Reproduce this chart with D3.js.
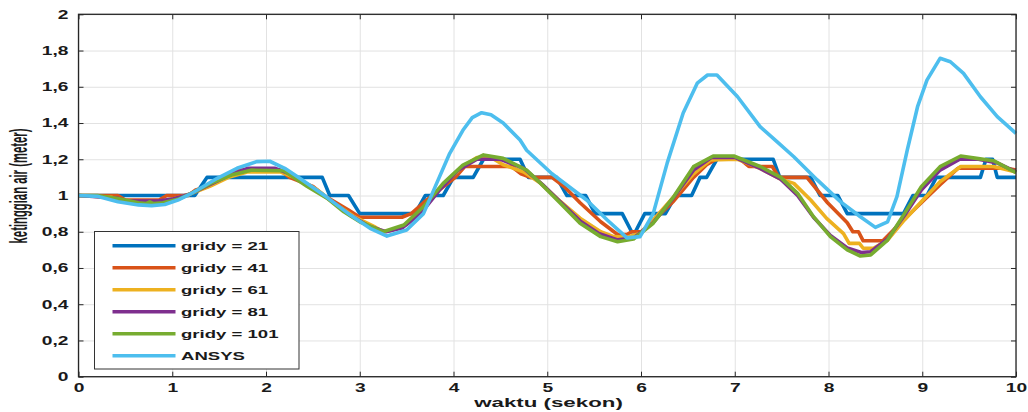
<!doctype html>
<html>
<head>
  <meta charset="utf8"/>
  <style>
    body { margin: 0; background: #fff; }
    text { font-family: 'Liberation Sans', Arial, sans-serif; font-weight: bold; fill: #1a1a1a; }
  </style>
</head>
<body>
  <svg width="1028" height="412"></svg>
  <script src="https://d3js.org/d3.v7.min.js"></script>
  <script>
    // tick values
    var xTicks = [0, 1, 2, 3, 4, 5, 6, 7, 8, 9, 10];
    var yTicks = [0, 0.2, 0.4, 0.6, 0.8, 1, 1.2, 1.4, 1.6, 1.8, 2];

    // series as [waktu, ketinggian]
    var gridy21 = [[0,1],[1.24,1],[1.37,1.1],[2.6,1.1],[2.68,1.0],[2.88,1.0],[3.0,0.9],[3.59,0.9],[3.7,1.0],
      [3.89,1.0],[4.0,1.1],[4.21,1.1],[4.32,1.2],[4.71,1.2],[4.8,1.1],[5.1,1.1],[5.21,1.0],[5.41,1.0],
      [5.51,0.9],[5.8,0.9],[5.9,0.8],[5.94,0.8],[6.04,0.9],[6.26,0.9],[6.37,1.0],[6.54,1.0],[6.63,1.1],
      [6.7,1.1],[6.81,1.2],[7.41,1.2],[7.48,1.1],[7.81,1.1],[7.91,1.0],[8.1,1.0],[8.2,0.9],[8.8,0.9],
      [8.9,1.0],[9.05,1.0],[9.15,1.1],[9.62,1.1],[9.68,1.2],[9.75,1.2],[9.8,1.1],[10,1.1]];
    var gridy41 = [[0,1],[0.42,1],[0.5,0.975],[0.86,0.975],[0.94,1],[1.17,1],[1.25,1.03],[1.38,1.05],
      [1.47,1.08],[1.57,1.1],[1.68,1.14],[2.15,1.14],[2.25,1.1],[2.4,1.07],[2.5,1.05],[2.62,1.0],
      [2.75,0.96],[2.88,0.92],[3.0,0.88],[3.45,0.88],[3.55,0.9],[3.68,0.96],[3.8,1.01],[3.92,1.06],
      [4.02,1.1],[4.12,1.16],[4.62,1.16],[4.72,1.12],[4.82,1.1],[5.05,1.1],[5.18,1.05],[5.35,0.96],
      [5.57,0.855],[5.75,0.785],[5.85,0.785],[5.9,0.8],[6.0,0.8],[6.13,0.86],[6.35,0.97],[6.56,1.1],
      [6.7,1.17],[6.8,1.2],[7.06,1.2],[7.15,1.16],[7.4,1.16],[7.47,1.1],[7.77,1.1],[7.99,0.96],
      [8.2,0.85],[8.26,0.8],[8.32,0.8],[8.37,0.75],[8.58,0.75],[8.77,0.85],[8.99,0.96],[9.19,1.06],
      [9.38,1.15],[9.9,1.15],[10,1.14]];
    var gridy61 = [[0,1],[0.35,0.99],[0.5,0.965],[0.85,0.965],[1.0,0.98],[1.2,1.01],[1.4,1.05],
      [1.6,1.1],[1.8,1.13],[2.15,1.13],[2.35,1.09],[2.55,1.03],[2.75,0.95],[2.95,0.88],[3.15,0.83],
      [3.25,0.8],[3.35,0.81],[3.5,0.84],[3.68,0.93],[3.89,1.06],[4.1,1.16],[4.25,1.21],[4.4,1.21],
      [4.53,1.17],[4.75,1.13],[4.93,1.067],[5.14,0.967],[5.35,0.875],[5.57,0.8],[5.71,0.773],
      [5.85,0.77],[5.99,0.79],[6.13,0.865],[6.35,0.994],[6.56,1.12],[6.74,1.196],[7.03,1.2],
      [7.27,1.15],[7.49,1.09],[7.63,1.067],[7.81,0.975],[7.98,0.874],[8.16,0.79],[8.22,0.736],
      [8.33,0.736],[8.37,0.709],[8.48,0.709],[8.63,0.754],[8.81,0.865],[8.99,0.966],[9.19,1.076],
      [9.41,1.16],[9.76,1.16],[10,1.13]];
    var gridy81 = [[0,1],[0.42,0.985],[0.5,0.97],[0.85,0.97],[1.0,0.98],[1.2,1.01],[1.4,1.06],
      [1.6,1.11],[1.8,1.15],[2.1,1.15],[2.3,1.11],[2.5,1.04],[2.7,0.97],[2.9,0.89],[3.1,0.83],
      [3.28,0.8],[3.45,0.82],[3.65,0.9],[3.85,1.03],[4.05,1.14],[4.25,1.2],[4.5,1.2],[4.75,1.15],
      [4.95,1.06],[5.15,0.96],[5.35,0.86],[5.55,0.79],[5.75,0.755],[5.92,0.765],[6.13,0.85],
      [6.35,0.99],[6.56,1.14],[6.75,1.21],[7.0,1.21],[7.27,1.15],[7.49,1.09],[7.67,1.0],[7.84,0.88],
      [8.02,0.78],[8.2,0.71],[8.35,0.685],[8.45,0.69],[8.63,0.76],[8.81,0.89],[8.99,1.03],
      [9.19,1.14],[9.4,1.2],[9.6,1.2],[9.8,1.18],[10,1.13]];
    var gridy101 = [[0,1],[0.2,1.0],[0.42,0.983],[0.64,0.96],[0.72,0.955],[0.76,0.965],[0.8,0.955],
      [0.9,0.96],[1.06,0.979],[1.2,1.01],[1.41,1.067],[1.63,1.113],[1.84,1.14],[2.19,1.137],
      [2.44,1.05],[2.65,0.985],[2.83,0.91],[3.0,0.855],[3.25,0.8],[3.47,0.837],[3.68,0.938],
      [3.89,1.067],[4.1,1.168],[4.32,1.224],[4.53,1.205],[4.78,1.14],[4.93,1.067],[5.14,0.958],
      [5.35,0.847],[5.57,0.773],[5.75,0.745],[5.92,0.76],[6.13,0.847],[6.35,0.994],[6.56,1.159],
      [6.77,1.218],[6.99,1.218],[7.27,1.16],[7.49,1.1],[7.67,1.012],[7.84,0.883],[8.02,0.773],
      [8.2,0.70],[8.34,0.666],[8.45,0.672],[8.63,0.754],[8.81,0.90],[8.99,1.049],[9.19,1.159],
      [9.41,1.218],[9.58,1.205],[9.76,1.192],[10,1.126]];
    var ansys = [[0,1],[0.21,0.995],[0.42,0.966],[0.64,0.948],[0.78,0.944],[0.92,0.95],[1.06,0.975],
      [1.2,1.01],[1.3,1.04],[1.48,1.095],[1.69,1.15],[1.9,1.187],[2.04,1.189],[2.2,1.15],[2.36,1.095],
      [2.65,0.99],[2.9,0.892],[3.11,0.819],[3.29,0.776],[3.5,0.81],[3.68,0.9],[3.82,1.067],[3.96,1.233],
      [4.1,1.36],[4.2,1.43],[4.3,1.457],[4.4,1.445],[4.53,1.40],[4.71,1.306],[4.78,1.25],[5.05,1.12],
      [5.42,0.975],[5.64,0.865],[5.85,0.766],[5.99,0.773],[6.13,0.9],[6.28,1.18],[6.45,1.455],
      [6.6,1.62],[6.71,1.665],[6.81,1.665],[7.03,1.545],[7.27,1.38],[7.45,1.297],[7.63,1.214],
      [7.88,1.086],[8.13,0.965],[8.34,0.883],[8.5,0.824],[8.63,0.855],[8.73,0.994],[8.84,1.25],
      [8.95,1.49],[9.05,1.637],[9.19,1.757],[9.3,1.738],[9.44,1.674],[9.62,1.545],[9.8,1.435],
      [10,1.343]];

    var names = ['gridy = 21', 'gridy = 41', 'gridy = 61', 'gridy = 81', 'gridy = 101', 'ANSYS'];
    var series = [gridy21, gridy41, gridy61, gridy81, gridy101, ansys];
    var colors = ['#0072bd', '#d95319', '#edb120', '#7e2f8e', '#77ac30', '#4dbeee'];

    var svg = d3.select('svg'),
        margin = {top: 14.3, left: 78.5},
        width = 937.5,
        height = 362.4,
        g = svg.append('g').attr('transform', 'translate(' + margin.left + ',' + margin.top + ')');

    var x = d3.scaleLinear().domain([0, 10]).range([0, width]);
    var y = d3.scaleLinear().domain([0, 2]).range([height, 0]);
    var fmt = function(d) { return d3.format('~g')(d).replace('.', ','); };

    // grid
    g.append('g')
       .call(d3.axisBottom(x).tickValues(xTicks).tickSize(height).tickFormat(''))
       .call(function(s) { s.select('.domain').remove(); })
       .selectAll('line').attr('stroke', '#e2e2e2');
    g.append('g')
       .call(d3.axisLeft(y).tickValues(yTicks).tickSize(-width).tickFormat(''))
       .call(function(s) { s.select('.domain').remove(); })
       .selectAll('line').attr('stroke', '#e2e2e2');

    // axes with inward ticks
    var axisColor = '#262626';
    var bottom = g.append('g').attr('transform', 'translate(0,' + height + ')')
       .call(d3.axisBottom(x).tickValues(xTicks).tickSizeInner(-5).tickSizeOuter(0).tickPadding(7));
    var left = g.append('g')
       .call(d3.axisLeft(y).tickValues(yTicks).tickFormat(fmt).tickSizeInner(-5).tickSizeOuter(0).tickPadding(10));
    g.append('g')
       .call(d3.axisTop(x).tickValues(xTicks).tickSizeInner(-5).tickSizeOuter(0).tickFormat(''));
    g.append('g').attr('transform', 'translate(' + width + ',0)')
       .call(d3.axisRight(y).tickValues(yTicks).tickSizeInner(-5).tickSizeOuter(0).tickFormat(''));
    g.selectAll('.domain').remove();
    g.selectAll('.tick line').filter(function() { return d3.select(this).attr('stroke') !== '#e2e2e2'; })
       .attr('stroke', axisColor);

    bottom.selectAll('text')
       .attr('font-size', 12).attr('font-family', null)
       .attr('transform', 'scale(1.6,1)');
    left.selectAll('text')
       .attr('font-size', 12).attr('font-family', null)
       .attr('x', 0)
       .attr('transform', 'translate(-10,0) scale(1.6,1)');

    // lines
    var line = d3.line()
                 .x(function(d) { return x(d[0]); })
                 .y(function(d) { return y(d[1]); });

    g.selectAll('.series')
       .data(series)
       .enter().append('path')
         .attr('class', 'series')
         .attr('fill', 'none')
         .attr('stroke', function(d, i) { return colors[i]; })
         .attr('stroke-width', 3.6)
         .attr('stroke-linejoin', 'round')
         .attr('d', line);

    // box
    g.append('rect')
       .attr('width', width).attr('height', height)
       .attr('fill', 'none').attr('stroke', axisColor).attr('stroke-width', 1.3);

    // legend
    var legend = svg.append('g').attr('transform', 'translate(94.5,231.5)');
    legend.append('rect')
       .attr('width', 204.5).attr('height', 137.5)
       .attr('fill', '#fff').attr('stroke', '#333').attr('stroke-width', 1);
    var item = legend.selectAll('.item')
       .data(names)
       .enter().append('g')
         .attr('class', 'item')
         .attr('transform', function(d, i) { return 'translate(0,' + (14.2 + i * 22) + ')'; });
    item.append('line')
       .attr('x1', 18).attr('x2', 81)
       .attr('stroke', function(d, i) { return colors[i]; })
       .attr('stroke-width', 3.6);
    item.append('text')
       .attr('font-size', 11.6)
       .attr('dy', '0.36em')
       .attr('transform', 'translate(86.5,0) scale(1.6,1)')
       .text(function(d) { return d; });

    // axis labels
    svg.append('text')
       .attr('font-size', 12.6)
       .attr('text-anchor', 'middle')
       .attr('transform', 'translate(548.5,407) scale(1.77,1)')
       .text('waktu (sekon)');
    svg.append('text')
       .attr('font-size', 11.3)
       .attr('text-anchor', 'middle')
       .attr('transform', 'translate(26.5,186) rotate(-90) scale(1,2.1)')
       .text('ketinggian air (meter)');
  </script>
</body>
</html>
